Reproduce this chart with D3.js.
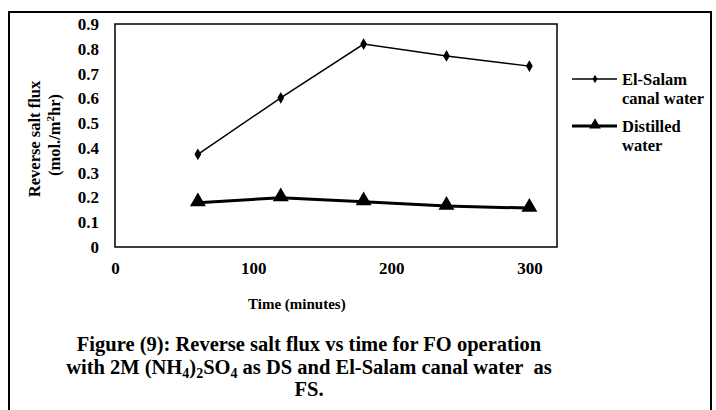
<!DOCTYPE html>
<html>
<head>
<meta charset="utf-8">
<script src="https://cdn.jsdelivr.net/npm/d3@7"></script>
<style>
  html, body { margin: 0; padding: 0; background: #fff; }
  svg { display: block; }
</style>
</head>
<body>
<svg id="chart" width="716" height="410"></svg>
<script>
// Sampling times (minutes)
const times = [60, 120, 180, 240, 300];
// Reverse salt flux (mol./m²hr)
const elSalam = [0.374, 0.602, 0.819, 0.771, 0.730];
const distilled = [0.179, 0.199, 0.183, 0.165, 0.157];
const xTicks = [0, 100, 200, 300];
const yTicks = [0, 0.1, 0.2, 0.3, 0.4, 0.5, 0.6, 0.7, 0.8, 0.9];
const seriesNames = [["El-Salam", "canal water"], ["Distilled", "water"]];

const FONT = "'Liberation Serif', 'Times New Roman', serif";
const svg = d3.select("#chart");

// outer frame
svg.append("rect")
  .attr("x", 9).attr("y", 12).attr("width", 702).attr("height", 410)
  .attr("fill", "none").attr("stroke", "#000").attr("stroke-width", 2);

const plot = { left: 115, top: 24, right: 557, bottom: 247 };
const x = d3.scaleLinear().domain([0, 320]).range([plot.left, plot.right]);
const y = d3.scaleLinear().domain([0, 0.9]).range([plot.bottom, plot.top]);

// plot area border
svg.append("rect")
  .attr("x", plot.left).attr("y", plot.top)
  .attr("width", plot.right - plot.left).attr("height", plot.bottom - plot.top)
  .attr("fill", "none").attr("stroke", "#000").attr("stroke-width", 1.5);

// y axis labels
const yAxis = d3.axisLeft(y).tickValues(yTicks).tickSize(0).tickPadding(16)
  .tickFormat(d => d === 0 ? "0" : d3.format(".1f")(d));
const gy = svg.append("g").attr("transform", `translate(${plot.left},0)`).call(yAxis);
gy.select(".domain").remove();
gy.selectAll("text").style("font-size", "17px");

// x axis labels
const xAxis = d3.axisBottom(x).tickValues(xTicks).tickSize(0).tickPadding(15).tickFormat(d3.format("d"));
const gx = svg.append("g").attr("transform", `translate(0,${plot.bottom})`).call(xAxis);
gx.select(".domain").remove();
gx.selectAll("text").style("font-size", "17px");

// axis titles
svg.append("text")
  .attr("transform", "translate(40,139) rotate(-90)")
  .attr("text-anchor", "middle").style("font-size", "16.5px")
  .text("Reverse salt flux");
const yt2 = svg.append("text")
  .attr("transform", "translate(60,135) rotate(-90)")
  .attr("text-anchor", "middle").style("font-size", "16.5px");
yt2.append("tspan").text("(mol./m");
yt2.append("tspan").attr("dy", -6).style("font-size", "11px").text("2");
yt2.append("tspan").attr("dy", 6).text("hr)");

svg.append("text")
  .attr("x", 248).attr("y", 309)
  .style("font-size", "15px").text("Time (minutes)");

// series lines
const line = d3.line().x(d => x(d[0])).y(d => y(d[1]));
const salamPts = times.map((t, i) => [t, elSalam[i]]);
const distPts = times.map((t, i) => [t, distilled[i]]);

svg.append("path").datum(salamPts).attr("d", line)
  .attr("fill", "none").attr("stroke", "#000").attr("stroke-width", 1.5);
svg.append("path").datum(distPts).attr("d", line)
  .attr("fill", "none").attr("stroke", "#000").attr("stroke-width", 3);

const diamond = d3.symbol().type(d3.symbolDiamond).size(40);
const triangle = d3.symbol().type(d3.symbolTriangle).size(110);

svg.selectAll(".m1").data(salamPts).join("path").attr("class", "m1")
  .attr("d", diamond).attr("transform", d => `translate(${x(d[0])},${y(d[1])})`).attr("fill", "#000");
svg.selectAll(".m2").data(distPts).join("path").attr("class", "m2")
  .attr("d", triangle).attr("transform", d => `translate(${x(d[0])},${y(d[1]) - 1})`).attr("fill", "#000");

// legend
const leg = svg.append("g");
const legRows = [
  { y: 79, width: 1.5, sym: d3.symbol().type(d3.symbolDiamond).size(20), dy: 0 },
  { y: 126, width: 3, sym: d3.symbol().type(d3.symbolTriangle).size(60), dy: -1 }
];
legRows.forEach((r, i) => {
  leg.append("line").attr("x1", 572).attr("x2", 617).attr("y1", r.y).attr("y2", r.y)
    .attr("stroke", "#000").attr("stroke-width", r.width);
  leg.append("path").attr("d", r.sym)
    .attr("transform", `translate(595,${r.y + r.dy})`).attr("fill", "#000");
  leg.append("text").attr("x", 622).attr("y", r.y + 6).style("font-size", "16.5px").text(seriesNames[i][0]);
  leg.append("text").attr("x", 622).attr("y", r.y + 25).style("font-size", "16.5px").text(seriesNames[i][1]);
});

// caption, centred under the chart
const capX = 309;
const cap = svg.append("g").style("font-size", "20.5px").attr("text-anchor", "middle");
cap.append("text").attr("x", capX).attr("y", 351).text("Figure (9): Reverse salt flux vs time for FO operation");
const c2 = cap.append("text").attr("x", capX).attr("y", 374);
c2.append("tspan").text("with 2M (NH");
c2.append("tspan").attr("dy", 4).style("font-size", "14px").text("4");
c2.append("tspan").attr("dy", -4).text(")");
c2.append("tspan").attr("dy", 4).style("font-size", "14px").text("2");
c2.append("tspan").attr("dy", -4).text("SO");
c2.append("tspan").attr("dy", 4).style("font-size", "14px").text("4");
c2.append("tspan").attr("dy", -4).text(" as DS and El-Salam canal water\u00a0\u00a0as");
cap.append("text").attr("x", capX).attr("y", 396).text("FS.");

// serif bold type throughout
svg.selectAll("g").attr("font-family", null);
svg.selectAll("text").style("font-family", FONT).style("font-weight", "bold").attr("fill", "#000");
</script>
</body>
</html>
